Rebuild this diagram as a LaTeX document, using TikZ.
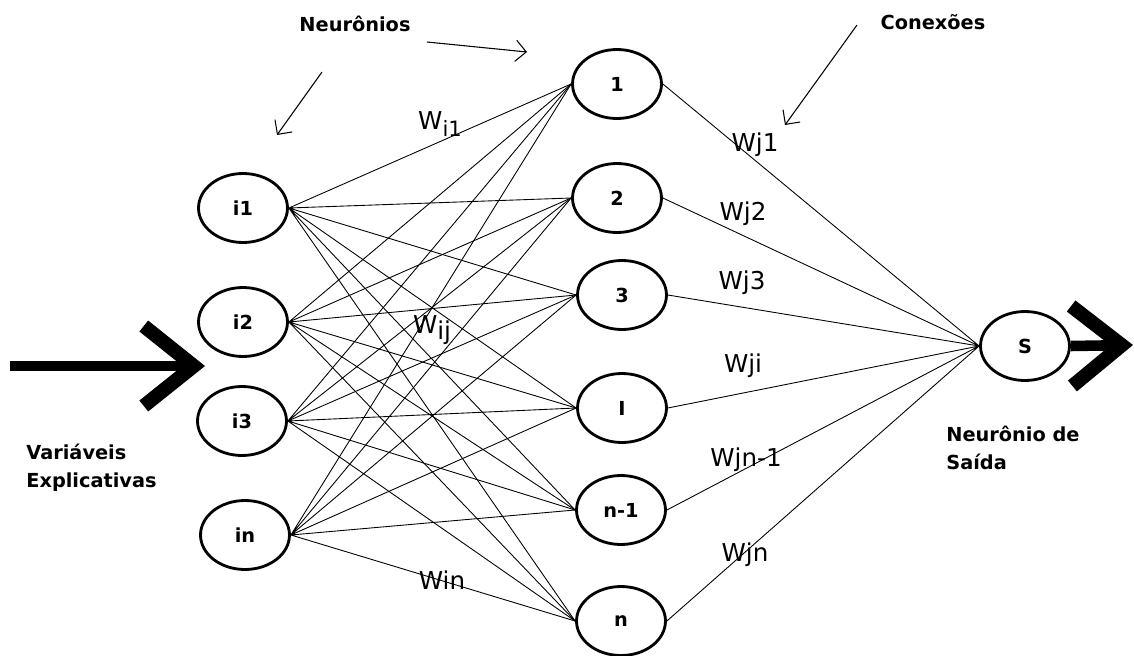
\documentclass[tikz,border=0pt]{standalone}
\usepackage{fontspec}
\setmainfont{DejaVu Sans}
\usetikzlibrary{arrows.meta, shapes.geometric}

\begin{document}
\begin{tikzpicture}[x=0.02cm, y=-0.02cm,
    neuron/.style={ellipse, draw=black, line width=1.6pt, minimum width=1.78cm, minimum height=1.38cm, inner sep=0pt, font=\fontsize{11}{13}\selectfont\bfseries},
    conn/.style={line width=0.5pt},
    wlabel/.style={font=\fontsize{14}{16}\selectfont, inner sep=0pt},
    txt/.style={font=\fontsize{11}{16}\selectfont\bfseries, align=left, inner sep=0pt},
    bigarrow/.style={line width=6pt, -{Straight Barb[length=1.0cm, width=1.6cm, line width=8pt 0, sharp]}},
    thinarrow/.style={line width=0.6pt, -{Straight Barb[length=6pt, width=12pt]}}
]
\useasboundingbox (0,0) rectangle (1134,656);

% input layer
\node[neuron] (i1) at (243,208) {i1};
\node[neuron] (i2) at (243,322) {i2};
\node[neuron] (i3) at (242,421) {i3};
\node[neuron] (iN) at (245,535) {in};

% hidden layer
\node[neuron] (h1) at (617,84) {1};
\node[neuron] (h2) at (617,198) {2};
\node[neuron] (h3) at (622,295) {3};
\node[neuron] (hI) at (622,408) {I};
\node[neuron] (hn1) at (621,510) {n-1};
\node[neuron] (hn) at (621,621) {n};

% output
\node[neuron] (s) at (1025,346) {S};

% input -> hidden
\draw[conn] (i1.east) -- (h1.west) (i1.east) -- (h2.west) (i1.east) -- (h3.west)
            (i1.east) -- (hI.west) (i1.east) -- (hn1.west) (i1.east) -- (hn.west);
\draw[conn] (i2.east) -- (h1.west) (i2.east) -- (h2.west) (i2.east) -- (h3.west)
            (i2.east) -- (hI.west) (i2.east) -- (hn1.west) (i2.east) -- (hn.west);
\draw[conn] (i3.east) -- (h1.west) (i3.east) -- (h2.west) (i3.east) -- (h3.west)
            (i3.east) -- (hI.west) (i3.east) -- (hn1.west) (i3.east) -- (hn.west);
\draw[conn] (iN.east) -- (h1.west) (iN.east) -- (h2.west) (iN.east) -- (h3.west)
            (iN.east) -- (hI.west) (iN.east) -- (hn1.west) (iN.east) -- (hn.west);

% hidden -> output
\draw[conn] (h1.east) -- (s.west) (h2.east) -- (s.west) (h3.east) -- (s.west)
            (hI.east) -- (s.west) (hn1.east) -- (s.west) (hn.east) -- (s.west);

% big arrows
\coordinate (inflow) at (10,366);
\coordinate (intip) at (205,366);
\coordinate (outtip) at (1133,345);
\draw[bigarrow] (inflow) -- (intip);
\draw[bigarrow] (s.east) -- (outtip);

% labels
\node[txt] (neurlbl) at (355,24) {Neurônios};
\node[txt] (conlbl) at (933,22) {Conexões};
\node[txt, anchor=west] (varlbl) at (26,468) {Variáveis\\Explicativas};
\node[txt, anchor=west] (outlbl) at (946,448) {Neurônio de\\Saída};

% pointer arrows
\coordinate (nA) at (322,72);
\coordinate (nAend) at (277,135);
\coordinate (nB) at (427,42);
\coordinate (nBend) at (527,52);
\coordinate (cA) at (857,25);
\coordinate (cAend) at (785,125);
\draw[thinarrow] (nA) -- (nAend);
\draw[thinarrow] (nB) -- (nBend);
\draw[thinarrow] (cA) -- (cAend);

% weights
\node[wlabel] (wi1) at (440,124) {W\raisebox{-4pt}{\fontsize{12}{14}\selectfont i1}};
\node[wlabel] (wij) at (432,330) {W\raisebox{-3pt}{ij}};
\node[wlabel] (win) at (442,580) {Win};
\node[wlabel] (wj1) at (755,145) {Wj1};
\node[wlabel] (wj2) at (743,214) {Wj2};
\node[wlabel] (wj3) at (742,283) {Wj3};
\node[wlabel] (wji) at (743,366) {Wji};
\node[wlabel] (wjn1) at (746,460) {Wjn-1};
\node[wlabel] (wjn) at (745,555) {Wjn};

\end{tikzpicture}
\end{document}
